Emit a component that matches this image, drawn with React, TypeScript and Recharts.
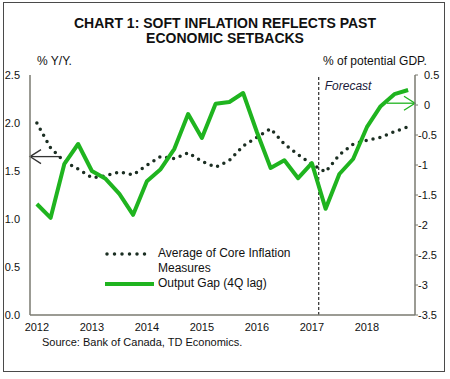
import {
  ComposedChart,
  Line,
  XAxis,
  YAxis,
  ReferenceLine,
} from "recharts";

// quarterly, 2012Q1 .. 2018Q4
const years = ["2012", "2013", "2014", "2015", "2016", "2017", "2018"];
const quarters = years.flatMap((y) => [1, 2, 3, 4].map((q) => `${y}Q${q}`));

// % Y/Y (left axis)
const coreInflation = [
  2.0, 1.74, 1.6, 1.52, 1.43, 1.45, 1.49, 1.46, 1.56, 1.65, 1.63, 1.69, 1.6, 1.54,
  1.61, 1.76, 1.85, 1.94, 1.78, 1.67, 1.57, 1.49, 1.67, 1.78, 1.82, 1.85, 1.91, 1.96,
];

// % of potential GDP (right axis)
const outputGap = [
  -1.65, -1.88, -0.98, -0.65, -1.1, -1.23, -1.48, -1.83, -1.27, -1.07, -0.73, -0.15,
  -0.55, 0.02, 0.05, 0.2, -0.45, -1.05, -0.92, -1.22, -0.97, -1.73, -1.15, -0.9,
  -0.37, -0.02, 0.18, 0.25,
];

const leftTicks = [0, 0.5, 1, 1.5, 2, 2.5];
const rightTicks = [-3.5, -3, -2.5, -2, -1.5, -1, -0.5, 0, 0.5];
const yearTicks = [0, 4, 8, 12, 16, 20, 24];

const data = quarters.map((q, i) => ({
  idx: i,
  quarter: q,
  core: coreInflation[i],
  gap: outputGap[i],
}));

const FONT = "Arial, 'Liberation Sans', sans-serif";
const GREEN = "#1fb41f";
const DOTS = "#1b2e22";
const AXIS = "#7a7a70";

function Arrow(props: any) {
  const { x1, y1, x2, y2, stroke, strokeWidth } = props;
  const dir = x2 > x1 ? 1 : -1;
  return (
    <g>
      <line x1={x1} y1={y1} x2={x2} y2={y2} stroke={stroke} strokeWidth={strokeWidth} />
      <path
        d={`M${x1 + dir * 11},${y1 - 7} L${x1},${y1} L${x1 + dir * 11},${y1 + 7}`}
        fill="none"
        stroke={stroke}
        strokeWidth={strokeWidth}
      />
    </g>
  );
}

function RightTick(props: any) {
  const { x, y, payload } = props;
  const v = payload.value;
  return (
    <text
      x={v < 0 ? x - 6 : x}
      y={y}
      dy={4}
      textAnchor="start"
      fontSize={11}
      fontFamily={FONT}
      fill="#111"
    >
      {String(v)}
    </text>
  );
}

export default function App() {
  return (
    <div
      style={{
        position: "absolute",
        left: 0,
        top: 0,
        width: 450,
        height: 379,
        background: "#fff",
        fontFamily: FONT,
        color: "#111",
      }}
    >
      {/* frame */}
      <div
        style={{
          position: "absolute",
          left: 3,
          top: 2,
          width: 442,
          height: 370,
          boxSizing: "border-box",
          border: "1.5px solid #4a4a4a",
        }}
      />

      {/* Title */}
      <div
        style={{
          position: "absolute",
          left: 0,
          top: 16,
          width: 450,
          textAlign: "center",
          fontWeight: "bold",
          fontSize: 14,
          lineHeight: "15px",
        }}
      >
        CHART 1: SOFT INFLATION REFLECTS PAST
        <br />
        ECONOMIC SETBACKS
      </div>

      <div style={{ position: "absolute", left: 37, top: 54, fontSize: 12 }}>% Y/Y.</div>
      <div style={{ position: "absolute", left: 323, top: 54, fontSize: 12 }}>
        % of potential GDP.
      </div>

      <ComposedChart
        width={450}
        height={379}
        data={data}
        margin={{ top: 75, right: 0, bottom: 44, left: 0 }}
        style={{ position: "absolute", left: 0, top: 0 }}
      >
        <XAxis
          dataKey="idx"
          type="number"
          domain={[-0.5, 27.5]}
          ticks={yearTicks}
          tickFormatter={(v) => years[v / 4]}
          tickLine={false}
          axisLine={{ stroke: AXIS, strokeWidth: 1.5 }}
          tick={{ fontSize: 11, fill: "#111", fontFamily: FONT }}
          tickSize={6}
          tickMargin={2}
          height={20}
        />
        <YAxis
          yAxisId="left"
          orientation="left"
          domain={[0, 2.5]}
          ticks={leftTicks}
          tickFormatter={(v) => v.toFixed(1)}
          tickLine={false}
          axisLine={{ stroke: AXIS, strokeWidth: 1.5 }}
          tick={{ fontSize: 11, fill: "#111", fontFamily: FONT }}
          tickSize={6}
          tickMargin={4}
          width={30}
        />
        <YAxis
          yAxisId="right"
          orientation="right"
          domain={[-3.5, 0.5]}
          ticks={rightTicks}
          tickLine={{ stroke: AXIS }}
          axisLine={{ stroke: AXIS, strokeWidth: 1.5 }}
          tick={<RightTick />}
          tickSize={3}
          tickMargin={6}
          width={35}
        />

        <ReferenceLine
          yAxisId="left"
          x={20.5}
          stroke="#000"
          strokeWidth={1}
          strokeDasharray="3 2"
          label={{
            value: "Forecast",
            position: "insideTopLeft",
            offset: 6,
            fontSize: 12,
            fontStyle: "italic",
            fill: "#1a1a3a",
            fontFamily: FONT,
          }}
        />

        <Line
          yAxisId="left"
          dataKey="core"
          type="linear"
          stroke={DOTS}
          strokeWidth={3.5}
          strokeDasharray="0 7"
          strokeLinecap="round"
          dot={false}
          isAnimationActive={false}
        />
        <Line
          yAxisId="right"
          dataKey="gap"
          type="linear"
          stroke={GREEN}
          strokeWidth={4}
          strokeLinejoin="round"
          dot={false}
          isAnimationActive={false}
        />

        <ReferenceLine
          yAxisId="left"
          segment={[
            { x: -0.5, y: 1.65 },
            { x: 1.68, y: 1.65 },
          ]}
          stroke="#333"
          strokeWidth={1.3}
          ifOverflow="visible"
          shape={<Arrow />}
        />
        <ReferenceLine
          yAxisId="right"
          segment={[
            { x: 27.5, y: 0.03 },
            { x: 25.46, y: 0.03 },
          ]}
          stroke={GREEN}
          strokeWidth={1.3}
          ifOverflow="visible"
          shape={<Arrow />}
        />
      </ComposedChart>

      {/* Legend */}
      <div style={{ position: "absolute", left: 104, top: 246, fontSize: 12, lineHeight: "15px" }}>
        <div style={{ display: "flex", alignItems: "flex-start" }}>
          <svg width={50} height={15} style={{ flex: "none" }}>
            <line
              x1={3}
              y1={8}
              x2={48}
              y2={8}
              stroke={DOTS}
              strokeWidth={3.5}
              strokeDasharray="0 7.5"
              strokeLinecap="round"
            />
          </svg>
          <div style={{ marginLeft: 4 }}>
            Average of Core Inflation
            <br />
            Measures
          </div>
        </div>
        <div style={{ display: "flex", alignItems: "center" }}>
          <svg width={50} height={15} style={{ flex: "none" }}>
            <line x1={1} y1={8} x2={50} y2={8} stroke={GREEN} strokeWidth={4} />
          </svg>
          <div style={{ marginLeft: 4 }}>Output Gap (4Q lag)</div>
        </div>
      </div>

      <div style={{ position: "absolute", left: 42, top: 336, fontSize: 11 }}>
        Source: Bank of Canada, TD Economics.
      </div>
    </div>
  );
}
